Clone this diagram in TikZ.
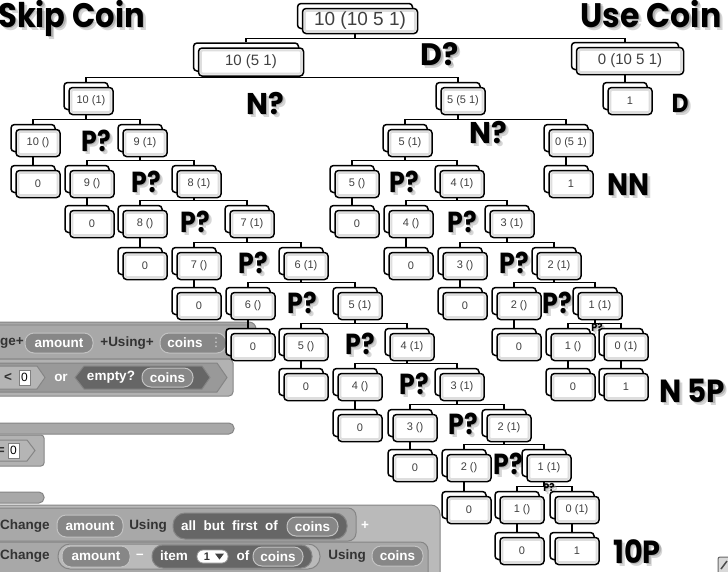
\documentclass[tikz,border=0pt]{standalone}
\usepackage{fontspec}
\setmainfont{Liberation Sans}
\newfontfamily\labf{Poppins}
\newfontfamily\dvf{DejaVu Sans}
\usetikzlibrary{calc}
\pgfdeclarelayer{blocks}\pgfdeclarelayer{bg}\pgfdeclarelayer{lbl}
\pgfsetlayers{blocks,bg,lbl,main}
\definecolor{hatc}{gray}{0.66}
\definecolor{ifc}{gray}{0.70}
\definecolor{orc}{gray}{0.60}
\definecolor{ltc}{gray}{0.71}
\definecolor{dkc}{gray}{0.40}
\definecolor{pillc}{gray}{0.53}
\definecolor{pille}{gray}{0.76}
\definecolor{edgec}{gray}{0.52}
\definecolor{outc}{gray}{0.73}
\definecolor{blkc}{gray}{0.66}
% tree node: [opts]{name}{x}{y}{text}
\newcommand\tn[5][]{%
  \node[bk,#1] (#2b) at ({#3-5},{#4-5}) {};
  \node[fr,#1] (#2) at (#3,#4) {#5};}
% connectors
\newcommand\twoc[3]{%
  \draw[conn] (#1b.south) -- ($(#1b.south |- #2b.north)+(0,-4)$);
  \draw[conn] (#2b.north) -- ++(0,-4) -| (#3b.north);}
\newcommand\onec[2]{\draw[conn] (#1b.south) -- (#1b.south |- #2b.north);}
% label with shadow: [anchor]{name}{x}{y}{size}{text}
\def\labsx{0.88}
\newcommand\lab[6][base]{%
  \node[anchor=#1, inner sep=0pt, text=black!45, opacity=0.5, font=\fontsize{#5}{#5}\selectfont\labf\bfseries] (#2s1) at ({#3+1.5},{#4+1.5}) {\scalebox{\labsx}[1]{#6}};
  \node[anchor=#1, inner sep=0pt, text=black!45, opacity=0.35, font=\fontsize{#5}{#5}\selectfont\labf\bfseries] (#2s2) at ({#3+3},{#4+3}) {\scalebox{\labsx}[1]{#6}};
  \node[anchor=#1, inner sep=0pt, text=black, font=\fontsize{#5}{#5}\selectfont\labf\bfseries] (#2) at (#3,#4) {\scalebox{\labsx}[1]{#6}};}
% snap pill: {name}{x1}{y1}{x2}{y2}{text}
\newcommand\pill[6]{%
  \filldraw[fill=pillc, draw=pille, line width=1pt, rounded corners=9pt] (#2,#3) rectangle (#4,#5);
  \node[blk, text=white] (#1) at ({(#2+#4)/2},{(#3+#5)/2}) {#6};}
\newcommand\wsp{\hspace{7.5pt}}
\begin{document}
\begin{tikzpicture}[x=1pt,y=-1pt,
  bk/.style={draw=black, line width=1.5pt, fill=white, rounded corners=3.5pt,
    minimum width=44pt, minimum height=27pt, inner sep=0pt},
  fr/.style={draw=black, line width=1.5pt, fill=white, rounded corners=3.5pt,
    minimum width=44pt, minimum height=27pt, inner sep=0pt,
    font=\fontsize{11}{11}\selectfont, text=black!75,
    path picture={\draw[black!13, line width=2pt, rounded corners=2pt]
      ([shift={(2.3pt,-2.3pt)}]path picture bounding box.north west) rectangle
      ([shift={(-2.3pt,2.3pt)}]path picture bounding box.south east);}},
  conn/.style={draw=black, line width=1.3pt},
  blk/.style={font=\fontsize{13.5}{13.5}\selectfont\bfseries, inner sep=0pt},
  dtxt/.style={text=black!80}
]
\useasboundingbox (0,0) rectangle (728,571);

% ---------------- Snap blocks (background) ----------------
\begin{pgfonlayer}{blocks}
\fill[white] (0,0) rectangle (728,571);
% header prototype row
\filldraw[fill=hatc, draw=edgec, line width=1pt, rounded corners=7pt] (-10,322) rectangle (256,359);
\draw[gray!80!white, line width=2pt] (-10,325) -- (248,325);
\node[blk, dtxt, anchor=west] (hg) at (0,343) {ge+};
\pill{hp1}{25}{333}{93}{353}{amount}
\node[blk, dtxt] (hu) at (127,343) {+Using+};
\filldraw[fill=pillc, draw=pille, line width=1pt, rounded corners=9pt] (160,333) rectangle (226,353);
\node[blk, text=white] (hp2) at (185,343) {coins};
\node[inner sep=0pt, text=white!85!black, font=\fontsize{12}{12}\selectfont\dvf] (hdots) at (216,343) {⋮};
% if row
\filldraw[fill=ifc, draw=edgec, line width=1pt, rounded corners=4pt] (-10,359) rectangle (233,396);
\filldraw[fill=orc, draw=edgec, line width=1pt] (-10,363) -- (217,363) -- (227,377.5) -- (217,392) -- (-10,392) -- cycle;
\filldraw[fill=ltc, draw=edgec, line width=1pt] (-10,366) -- (37,366) -- (45,377.5) -- (37,389) -- (-10,389) -- cycle;
\node[blk, dtxt] (lt) at (8,377.5) {<};
\node[draw=black!50, fill=white, inner sep=0pt, minimum width=11pt, minimum height=15pt,
  font=\fontsize{12}{12}\selectfont] (s1) at (24.5,377.5) {0};
\node[blk, text=white] (ortxt) at (61,377.5) {or};
\filldraw[fill=dkc, draw=edgec, line width=1pt] (75,377.5) -- (84,366) -- (202,366) -- (210,377.5) -- (202,389) -- (84,389) -- cycle;
\node[blk, text=white] (emp) at (111,377.5) {empty?};
\pill{ep}{142}{368}{193}{387}{coins}
% arm bar 1
\filldraw[fill=hatc, draw=edgec, line width=1pt, rounded corners=5pt] (-10,423) rectangle (234,434);
% = 0 block
\filldraw[fill=ifc, draw=edgec, line width=1pt, rounded corners=3pt] (-10,435) rectangle (44,466);
\filldraw[fill=ltc, draw=edgec, line width=1pt] (-10,440) -- (27,440) -- (35,450.5) -- (27,461) -- (-10,461) -- cycle;
\node[blk, dtxt, anchor=east] (eq) at (5,450.5) {=};
\node[draw=black!50, fill=white, inner sep=0pt, minimum width=11pt, minimum height=15pt,
  font=\fontsize{12}{12}\selectfont] (s2) at (13.5,450.5) {0};
% arm bar 2
\filldraw[fill=hatc, draw=edgec, line width=1pt, rounded corners=5pt] (-10,492) rectangle (44,503);
% bottom + block
\filldraw[fill=outc, draw=edgec, line width=1pt, rounded corners=9pt] (-10,505) rectangle (440,600);
\filldraw[fill=blkc, draw=edgec, line width=1pt, rounded corners=8pt] (-10,508) rectangle (356,541);
\filldraw[fill=blkc, draw=edgec, line width=1pt, rounded corners=8pt] (-10,542) rectangle (428,590);
% row A
\node[blk, dtxt, anchor=west] (ca) at (0,526) {Change};
\pill{ap1}{57}{515}{123}{537}{amount}
\node[blk, dtxt] (ua) at (148,526) {Using};
\filldraw[fill=dkc, draw=edgec, line width=1pt, rounded corners=12pt] (173,513) rectangle (347,539);
\node[blk, text=white, anchor=west] (abf) at (181,526) {all\wsp but\wsp first\wsp of};
\pill{ap2}{287}{517}{338}{536}{coins}
\node[blk, text=white] (plus) at (365,526) {+};
% row B
\node[blk, dtxt, anchor=west] (cb) at (0,556) {Change};
\filldraw[fill=outc, draw=edgec, line width=1pt, rounded corners=12pt] (58,544) rectangle (320,569);
\pill{bp1}{62}{546}{130}{567}{amount}
\node[blk, text=white] (minus) at (140,556) {–};
\filldraw[fill=dkc, draw=edgec, line width=1pt, rounded corners=11pt] (152,545) rectangle (312,568);
\node[blk, text=white] (itm) at (174,556) {item};
\filldraw[fill=white, draw=black!40, line width=0.8pt, rounded corners=6pt] (197,550) rectangle (228,563);
\node[inner sep=0pt, font=\fontsize{11}{11}\selectfont\bfseries, text=black!80] (one) at (207,556.5) {1};
\fill[black!75] (215,553.5) -- (224,553.5) -- (219.5,559.5) -- cycle;
\node[blk, text=white] (oftxt) at (243,556) {of};
\pill{bp2}{253}{547}{303}{566}{coins}
\node[blk, dtxt] (ub) at (347,556) {Using};
\pill{bp3}{372}{546}{423}{566}{coins}
% corner icon
\filldraw[fill=black!15, draw=black!60, line width=1pt, rounded corners=2pt] (718,557) rectangle (740,585);
\draw[black!70, line width=1.5pt] (721,569) -- (727,561);
\end{pgfonlayer}

% ---------------- tree nodes ----------------
\tn[minimum width=115pt, minimum height=25pt, font=\fontsize{19}{19}\selectfont]{A}{360}{21}{10 (10 5 1)}
\tn[minimum width=105pt, minimum height=28pt, font=\fontsize{15}{15}\selectfont]{B}{251}{62}{10 (5 1)}
\tn[minimum width=107pt, font=\fontsize{15}{15}\selectfont]{C}{630}{61}{0 (10 5 1)}
\tn{Cl}{630}{101}{1}
\tn{D}{91}{101}{10 (1)}
\tn{E}{463}{101}{5 (5 1)}
% left chain
\tn{Lae}{38}{143}{10 ()}
\tn{L9}{145}{143}{9 (1)}
\tn{Laz}{38}{184}{0}
\tn{L9e}{92}{184}{9 ()}
\tn{L8}{199}{184}{8 (1)}
\tn{L9z}{92}{224}{0}
\tn{L8e}{145}{224}{8 ()}
\tn{L7}{252}{224}{7 (1)}
\tn{L8z}{145}{266}{0}
\tn{L7e}{199}{266}{7 ()}
\tn{L6}{306}{266}{6 (1)}
\tn{L7z}{199}{306}{0}
\tn{L6e}{253}{306}{6 ()}
\tn{L5}{360}{306}{5 (1)}
\tn{L6z}{253}{347}{0}
\tn{L5e}{306}{347}{5 ()}
\tn{L4}{412}{347}{4 (1)}
\tn{L5z}{306}{387}{0}
\tn{L4e}{360}{387}{4 ()}
\tn{L3}{462}{387}{3 (1)}
\tn{L4z}{360}{428}{0}
\tn{L3e}{415}{428}{3 ()}
\tn{L2}{509}{428}{2 (1)}
\tn{L3z}{415}{468}{0}
\tn{L2e}{469}{468}{2 ()}
\tn{L1}{549}{468}{1 (1)}
\tn{L2z}{469}{510}{0}
\tn{L1e}{522}{510}{1 ()}
\tn{L0}{577}{510}{0 (1)}
\tn{L1z}{522}{551}{0}
\tn{L0z}{577}{551}{1}
% right chain
\tn{R5}{410}{143}{5 (1)}
\tn{R05}{571}{143}{0 (5 1)}
\tn{R5e}{357}{184}{5 ()}
\tn{R4}{462}{184}{4 (1)}
\tn{R05z}{571}{184}{1}
\tn{R5z}{357}{224}{0}
\tn{R4e}{411}{224}{4 ()}
\tn{R3}{512}{224}{3 (1)}
\tn{R4z}{411}{266}{0}
\tn{R3e}{465}{266}{3 ()}
\tn{R2}{559}{266}{2 (1)}
\tn{R3z}{465}{306}{0}
\tn{R2e}{519}{306}{2 ()}
\tn{R1}{600}{306}{1 (1)}
\tn{R2z}{519}{347}{0}
\tn{R1e}{573}{347}{1 ()}
\tn{R0}{626}{347}{0 (1)}
\tn{R1z}{573}{387}{0}
\tn{R0z}{626}{387}{1}

% ---------------- connectors ----------------
\begin{pgfonlayer}{bg}
\twoc{A}{B}{C}
\twoc{B}{D}{E}
\onec{C}{Cl}
\twoc{D}{Lae}{L9}
\onec{Lae}{Laz}
\twoc{L9}{L9e}{L8}
\onec{L9e}{L9z}
\twoc{L8}{L8e}{L7}
\onec{L8e}{L8z}
\twoc{L7}{L7e}{L6}
\onec{L7e}{L7z}
\twoc{L6}{L6e}{L5}
\onec{L6e}{L6z}
\twoc{L5}{L5e}{L4}
\onec{L5e}{L5z}
\twoc{L4}{L4e}{L3}
\onec{L4e}{L4z}
\twoc{L3}{L3e}{L2}
\onec{L3e}{L3z}
\twoc{L2}{L2e}{L1}
\onec{L2e}{L2z}
\twoc{L1}{L1e}{L0}
\onec{L1e}{L1z}
\onec{L0}{L0z}
\twoc{E}{R5}{R05}
\onec{R05}{R05z}
\twoc{R5}{R5e}{R4}
\onec{R5e}{R5z}
\twoc{R4}{R4e}{R3}
\onec{R4e}{R4z}
\twoc{R3}{R3e}{R2}
\onec{R3e}{R3z}
\twoc{R2}{R2e}{R1}
\onec{R2e}{R2z}
\twoc{R1}{R1e}{R0}
\onec{R1e}{R1z}
\onec{R0}{R0z}
\end{pgfonlayer}

% ---------------- labels ----------------
\begin{pgfonlayer}{lbl}
\def\labsx{0.9}
\lab[base west]{skip}{-2}{27}{34}{Skip Coin}
\def\labsx{0.93}
\lab{use}{651}{27}{34}{Use Coin}
\def\labsx{0.97}
\lab{dq}{440}{65}{31}{D?}
\lab{nq1}{265}{114}{30}{N?}
\lab{nq2}{488}{143}{30}{N?}
\def\labsx{0.92}
\lab{n5p}{692}{402}{32}{N 5P}
\def\labsx{0.9}
\lab{dd}{680}{112}{26}{D}
\lab{nn}{628}{195}{31}{NN}
\lab{tenp}{637}{563}{32}{10P}
\def\labsx{0.87}
\lab{pl3}{96}{151}{29}{P?}
\lab{pl4}{146}{192}{29}{P?}
\lab{pl5}{195}{232}{29}{P?}
\lab{pl6}{253}{273}{29}{P?}
\lab{pl7}{302}{313}{29}{P?}
\lab{pl8}{360}{354}{29}{P?}
\lab{pl9}{414}{394}{29}{P?}
\lab{pl10}{463}{434}{29}{P?}
\lab{pl11}{508}{474}{29}{P?}
\lab{pl12}{549}{491}{11}{P?}
\lab{pr4}{404}{192}{29}{P?}
\lab{pr5}{462}{232}{29}{P?}
\lab{pr6}{514}{273}{29}{P?}
\lab{pr7}{557}{313}{29}{P?}
\lab{pr8}{597}{331}{11}{P?}
\end{pgfonlayer}
\end{tikzpicture}
\end{document}
